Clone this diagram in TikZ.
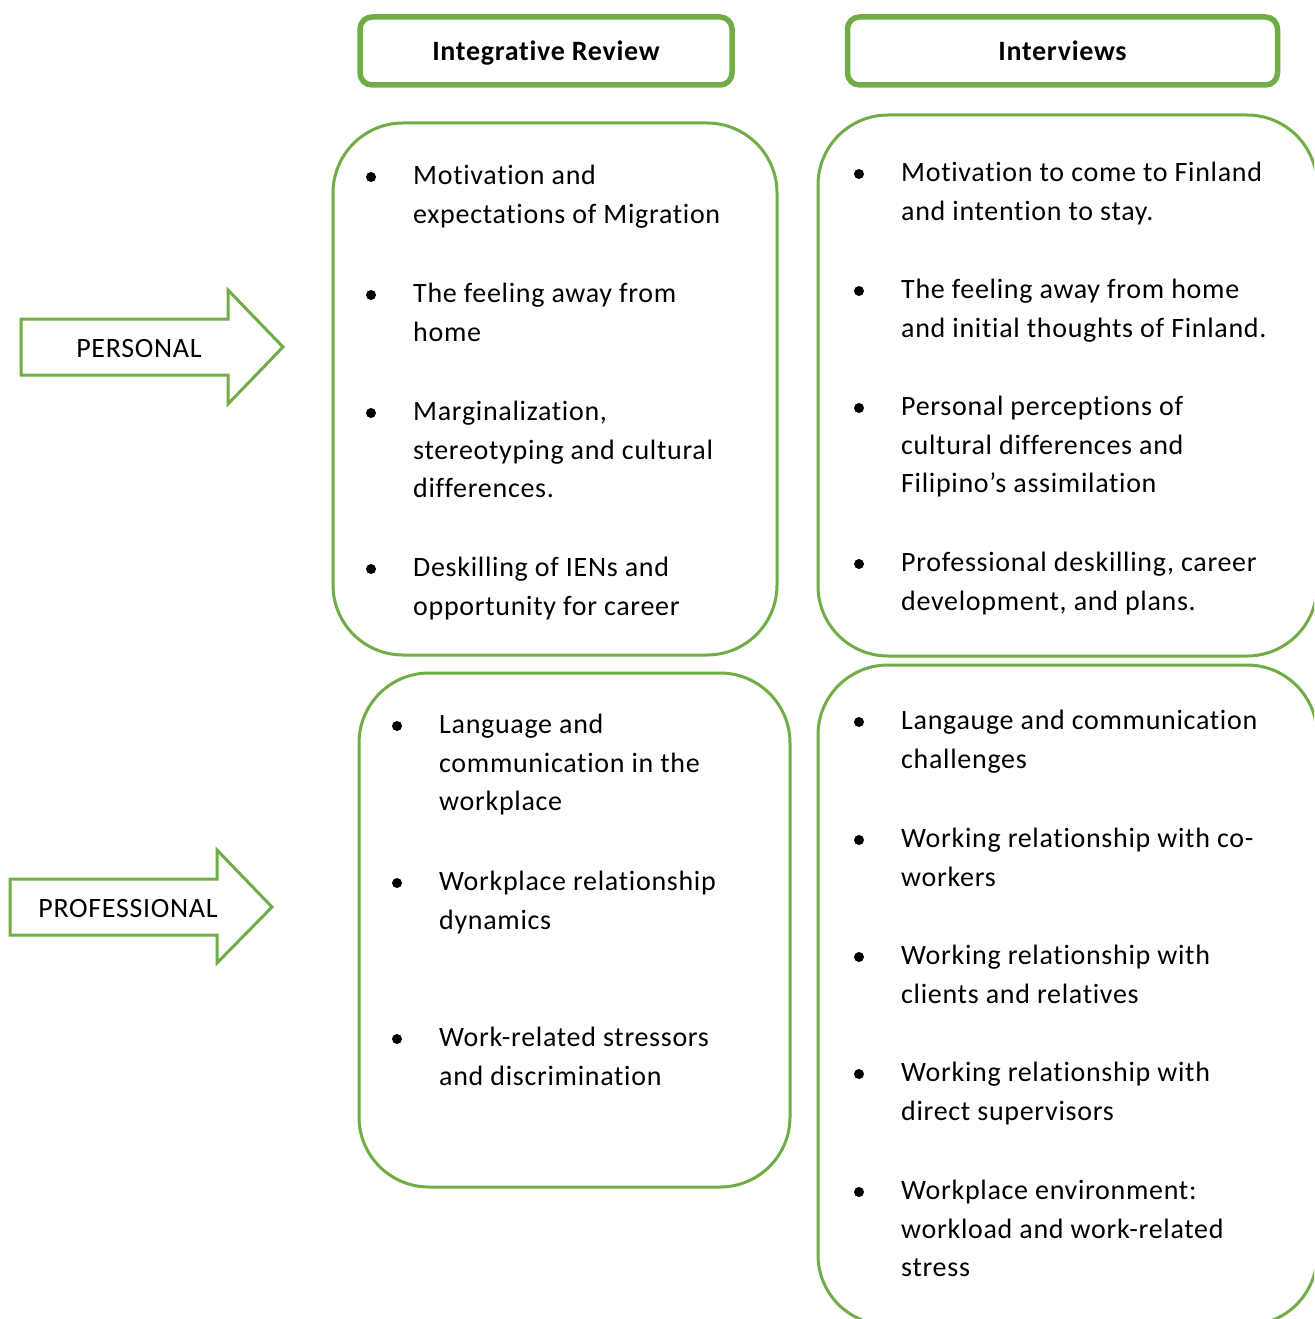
\documentclass[tikz,border=0pt]{standalone}
\usepackage{fontspec}
\setmainfont[LetterSpace=2.5, Ligatures=NoCommon]{Carlito}
\definecolor{leaf}{HTML}{70AD47}
\newcommand\bodyfont{\fontsize{28}{38.8}\selectfont}
\tikzset{
  box/.style={draw=leaf, line width=3pt, rounded corners=70pt},
  head/.style={draw=leaf, line width=5.5pt, rounded corners=12pt, font=\bodyfont\bfseries,
    text height=20pt, text depth=0pt, inner sep=0pt, minimum height=68pt},
  pointer/.style={draw=leaf, line width=3pt, line join=miter},
  item/.style={anchor=north west, align=left, inner sep=0pt},
}
\begin{document}
\begin{tikzpicture}[x=1pt, y=-1pt, font=\bodyfont]
  \useasboundingbox (0,0) rectangle (1314,1319);
  \clip (0,0) rectangle (1314,1319);
  % Tieu de
  \node[head, minimum width=372pt] (ir) at (546,51) {Integrative Review};
  \node[head, minimum width=430pt] (int) at (1062.5,51) {Interviews};
  % Khung
  \draw[box] (333,123) rectangle (777,655);
  \draw[box] (359,673) rectangle (790,1187);
  \draw[box] (818,115) rectangle (1317,656);
  \draw[box] (818,665) rectangle (1317,1325);
  % Mui ten
  \draw[pointer] (21,319) -- (228,319) -- (228,290) -- (283,347) -- (228,404) -- (228,375) -- (21,375) -- cycle;
  \node (personal) at (139,349) {PERSONAL};
  \draw[pointer] (10,879) -- (217,879) -- (217,850) -- (272,907) -- (217,963) -- (217,935) -- (10,935) -- cycle;
  \node (professional) at (128,908) {PROFESSIONAL};
  % Integrative Review - personal
  \foreach \y/\txt [count=\i] in {184/{Motivation and\\expectations of Migration},
      302/{The feeling away from\\home},
      420/{Marginalization,\\stereotyping and cultural\\differences.},
      576/{Deskilling of IENs and\\opportunity for career}} {
    \fill (371,\y-7) circle (5pt);
    \node[item] (irp\i) at (413,\y-27.16) {\strut\txt};
  }
  % Integrative Review - professional
  \foreach \y/\txt [count=\i] in {733/{Language and\\communication in the\\workplace},
      890/{Workplace relationship\\dynamics},
      1046/{Work-related stressors\\and discrimination}} {
    \fill (397,\y-7) circle (5pt);
    \node[item] (irw\i) at (439,\y-27.16) {\strut\txt};
  }
  % Interviews - personal
  \foreach \y/\txt [count=\i] in {181/{Motivation to come to Finland\\and intention to stay.},
      298/{The feeling away from home\\and initial thoughts of Finland.},
      415/{Personal perceptions of\\cultural differences and\\Filipino’s assimilation},
      571/{Professional deskilling, career\\development, and plans.}} {
    \fill (859,\y-7) circle (5pt);
    \node[item] (intp\i) at (901,\y-27.16) {\strut\txt};
  }
  % Interviews - professional
  \foreach \y/\txt [count=\i] in {729/{Langauge and communication\\challenges},
      847/{Working relationship with co-\\workers},
      964/{Working relationship with\\clients and relatives},
      1081/{Working relationship with\\direct supervisors},
      1199/{Workplace environment:\\workload and work-related\\stress}} {
    \fill (859,\y-7) circle (5pt);
    \node[item] (intw\i) at (901,\y-27.16) {\strut\txt};
  }
\end{tikzpicture}
\end{document}
